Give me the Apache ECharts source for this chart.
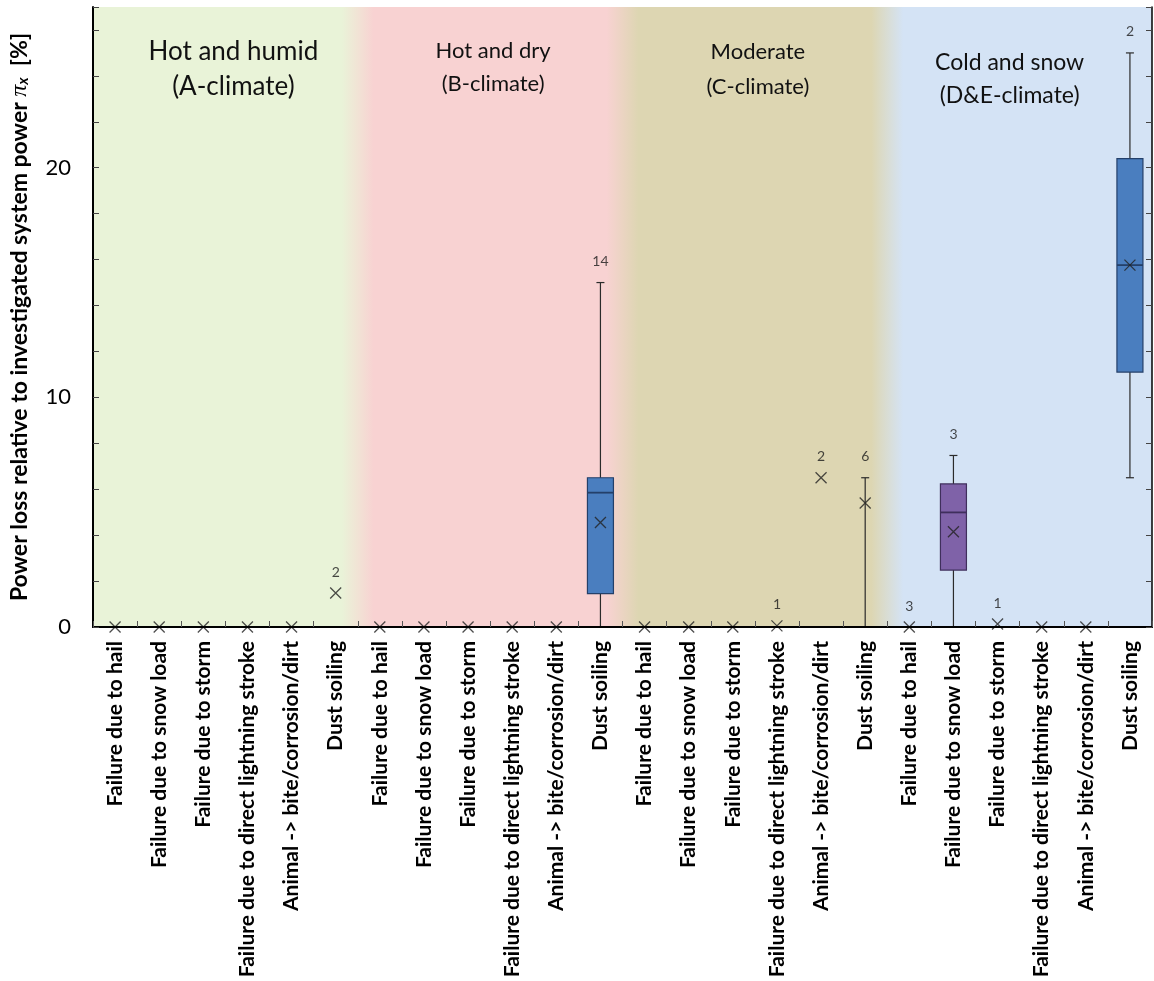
<!DOCTYPE html>
<html><head><meta charset="utf-8">
<script src="https://cdn.jsdelivr.net/npm/echarts@6/dist/echarts.min.js"></script>
<style>html,body{margin:0;padding:0;background:#fff}#c{width:1154px;height:981px}</style>
</head><body><div id="c"></div>
<script>
const categories = [
  'Failure due to hail','Failure due to snow load','Failure due to storm','Failure due to direct lightning stroke','Animal -> bite/corrosion/dirt','Dust soiling',
  'Failure due to hail','Failure due to snow load','Failure due to storm','Failure due to direct lightning stroke','Animal -> bite/corrosion/dirt','Dust soiling',
  'Failure due to hail','Failure due to snow load','Failure due to storm','Failure due to direct lightning stroke','Animal -> bite/corrosion/dirt','Dust soiling',
  'Failure due to hail','Failure due to snow load','Failure due to storm','Failure due to direct lightning stroke','Animal -> bite/corrosion/dirt','Dust soiling'
];
const climateNames = ['Hot and humid\n(A-climate)','Hot and dry\n(B-climate)','Moderate\n(C-climate)','Cold and snow\n(D&E-climate)'];
const climateStart = [0, 6, 12, 18];
const climateEnd = [5, 11, 17, 23];
const meanValues = [0,0,0,0,0,1.48, 0,0,0,0,0,4.55, 0,0,0,0.05,6.5,5.4, 0,4.15,0.13,0,0,15.76];
const countLabels = ['','','','','','2', '','','','','','14', '','','','1','2','6', '3','3','1','','','2'];
const boxIndex = [11, 17, 19, 23];
const boxMin = [0, 0, 0, 6.5];
const boxQ1 = [1.45, null, 2.48, 11.1];
const boxMedian = [5.85, null, 4.99, 15.76];
const boxQ3 = [6.5, null, 6.23, 20.4];
const boxMax = [15.0, 6.5, 7.47, 25.0];
const boxColorKey = [0, 0, 1, 0];
const yLabelValues = [0, 10, 20];

const bandColors = ['#e9f3d8', '#f8d2d2', '#ddd6b2', '#d4e3f5'];
const titleSizes = [26, 22, 22, 23];
const titleTops = [27, 27, 27, 39];
const titleLineHeights = [35, 33, 35, 33];
const titleDx = [8, 3, 3, -10];
const boxFill = ['#4a7ebf', '#7f62a8'];
const boxStroke = ['#24406a', '#3f2f5c'];
const FONT = 'Lato';

function mix(a, b, t) {
  const pa = [1, 3, 5].map(k => parseInt(a.substr(k, 2), 16));
  const pb = [1, 3, 5].map(k => parseInt(b.substr(k, 2), 16));
  return 'rgb(' + pa.map((v, k) => Math.round(v + (pb[k] - v) * t)).join(',') + ')';
}

const bandData = climateStart.map((s, i) => [s, climateEnd[i], i]);
const boxData = boxIndex.map((x, i) => [x, boxMin[i], boxQ1[i], boxMedian[i], boxQ3[i], boxMax[i], boxColorKey[i]]);
const meanData = meanValues.map((v, i) => [i, v]);
const countData = [];
countLabels.forEach((c, i) => {
  if (!c) return;
  const bi = boxIndex.indexOf(i);
  const top = bi >= 0 ? Math.max(boxMax[bi], meanValues[i]) : meanValues[i];
  countData.push({value: [i, top], label: {formatter: c}});
});

const chart = echarts.init(document.getElementById('c'), null, {renderer: 'canvas'});
chart.setOption({
  animation: false,
  backgroundColor: '#fff',
  grid: {left: 93, right: 2, top: 7, bottom: 354, containLabel: false, outerBoundsMode: 'none'},
  xAxis: [{
    type: 'category', data: categories, boundaryGap: true, position: 'bottom',
    axisLine: {show: true, lineStyle: {color: '#000', width: 2}},
    axisTick: {show: true, inside: true, length: 6, interval: 0, lineStyle: {color: '#555', width: 1}},
    axisLabel: {show: true, interval: 0, rotate: 90, margin: 14, fontFamily: FONT, fontWeight: 'bold', fontSize: 21, color: '#000'},
    splitLine: {show: false}, z: 10
  }, {
    type: 'category', data: categories, position: 'top',
    axisLine: {show: true, lineStyle: {color: '#000', width: 1.5}},
    axisTick: {show: false}, axisLabel: {show: false}, splitLine: {show: false}, z: 10
  }],
  yAxis: [{
    type: 'value', min: 0, max: 27, interval: 2, position: 'left',
    axisLine: {show: true, lineStyle: {color: '#000', width: 2}},
    axisTick: {show: true, inside: true, length: 6, lineStyle: {color: '#444', width: 1}},
    axisLabel: {show: true, margin: 22, fontFamily: FONT, fontSize: 22, color: '#000',
      formatter: v => yLabelValues.includes(v) ? String(v) : ''},
    splitLine: {show: false},
    name: '{t|Power loss relative to investigated system power }{pi|π}{sub|x}{t|  [%]}',
    nameLocation: 'middle', nameGap: 62, nameRotate: 90,
    nameTextStyle: {
      rich: {
        t: {fontFamily: FONT, fontWeight: 'bold', fontSize: 23, color: '#000', lineHeight: 23, verticalAlign: 'top'},
        pi: {fontFamily: 'Liberation Serif', fontStyle: 'italic', fontSize: 24, color: '#000', lineHeight: 23, verticalAlign: 'top'},
        sub: {fontFamily: FONT, fontStyle: 'italic', fontWeight: 'bold', fontSize: 15, color: '#000', lineHeight: 15, padding: [9, 0, 0, 0], verticalAlign: 'bottom'}
      }
    }, z: 10
  }, {
    type: 'value', min: 0, max: 27, interval: 2, position: 'right',
    axisLine: {show: true, lineStyle: {color: '#000', width: 1.5}},
    axisTick: {show: true, inside: true, length: 6, lineStyle: {color: '#444', width: 1}},
    axisLabel: {show: false}, splitLine: {show: false}, z: 10
  }],
  series: [{
    type: 'custom', name: 'bands', xAxisIndex: 0, yAxisIndex: 0, z: 1, silent: true,
    data: bandData,
    encode: {x: [0, 1]},
    renderItem: function (params, api) {
      const s = api.value(0), e = api.value(1), i = api.value(2);
      const bw = api.size([1, 0])[0];
      const x0 = api.coord([s, 0])[0] - bw / 2;
      const x1 = api.coord([e, 0])[0] + bw / 2;
      const cs = params.coordSys;
      const children = [
        {type: 'rect', shape: {x: x0, y: cs.y, width: x1 - x0, height: cs.height}, style: {fill: bandColors[i]}, z2: 0}
      ];
      if (i > 0) {
        const blend = 16;
        const prev = bandColors[i - 1], cur = bandColors[i];
        children.push({type: 'rect', z2: 1, shape: {x: x0 - blend, y: cs.y, width: 2 * blend, height: cs.height},
          style: {fill: new echarts.graphic.LinearGradient(0, 0, 1, 0, [
            {offset: 0, color: prev}, {offset: 0.5, color: mix(prev, cur, 0.5)}, {offset: 1, color: cur}])}});
      }
      children.push({type: 'text', z2: 5, x: (x0 + x1) / 2 + titleDx[i], y: cs.y + titleTops[i], style: {
        text: climateNames[i], fontFamily: FONT, fontSize: titleSizes[i], lineHeight: titleLineHeights[i],
        fill: '#111', align: 'center', verticalAlign: 'top'}});
      return {type: 'group', children: children};
    }
  }, {
    type: 'custom', name: 'boxes', xAxisIndex: 0, yAxisIndex: 0, z: 5,
    data: boxData,
    encode: {x: 0, y: [1, 5]},
    renderItem: function (params, api) {
      const x = api.value(0);
      const mn = api.value(1), q1 = api.value(2), md = api.value(3), q3 = api.value(4), mx = api.value(5);
      const ck = api.value(6);
      const cx = api.coord([x, 0])[0];
      const yMin = api.coord([x, mn])[1], yMax = api.coord([x, mx])[1];
      const hw = 13, cap = 4;
      const ls = {stroke: '#2b2b2b', lineWidth: 1.2};
      const children = [
        {type: 'line', shape: {x1: cx, y1: yMin, x2: cx, y2: yMax}, style: ls},
        {type: 'line', shape: {x1: cx - cap, y1: yMax, x2: cx + cap, y2: yMax}, style: ls},
        {type: 'line', shape: {x1: cx - cap, y1: yMin, x2: cx + cap, y2: yMin}, style: ls}
      ];
      if (!isNaN(q1) && !isNaN(q3)) {
        const y1 = api.coord([x, q1])[1], y3 = api.coord([x, q3])[1], ym = api.coord([x, md])[1];
        children.push({type: 'rect', shape: {x: cx - hw, y: y3, width: 2 * hw, height: y1 - y3},
          style: {fill: boxFill[ck], stroke: boxStroke[ck], lineWidth: 1.2}});
        children.push({type: 'line', shape: {x1: cx - hw, y1: ym, x2: cx + hw, y2: ym},
          style: {stroke: boxStroke[ck], lineWidth: 1.8}});
      }
      return {type: 'group', children: children};
    }
  }, {
    type: 'scatter', name: 'mean', xAxisIndex: 0, yAxisIndex: 0, z: 8,
    data: meanData,
    symbol: 'path://M0,0L10,10M10,0L0,10', symbolSize: 11,
    itemStyle: {color: 'rgba(0,0,0,0)', borderColor: '#222', borderWidth: 1.3},
    clip: false
  }, {
    type: 'scatter', name: 'count', xAxisIndex: 0, yAxisIndex: 0, z: 9,
    data: countData, symbolSize: 0,
    label: {show: true, position: 'top', distance: 14, fontFamily: FONT, fontSize: 14, color: '#1a1a1a'},
    clip: false
  }]
});
</script>
</body></html>
